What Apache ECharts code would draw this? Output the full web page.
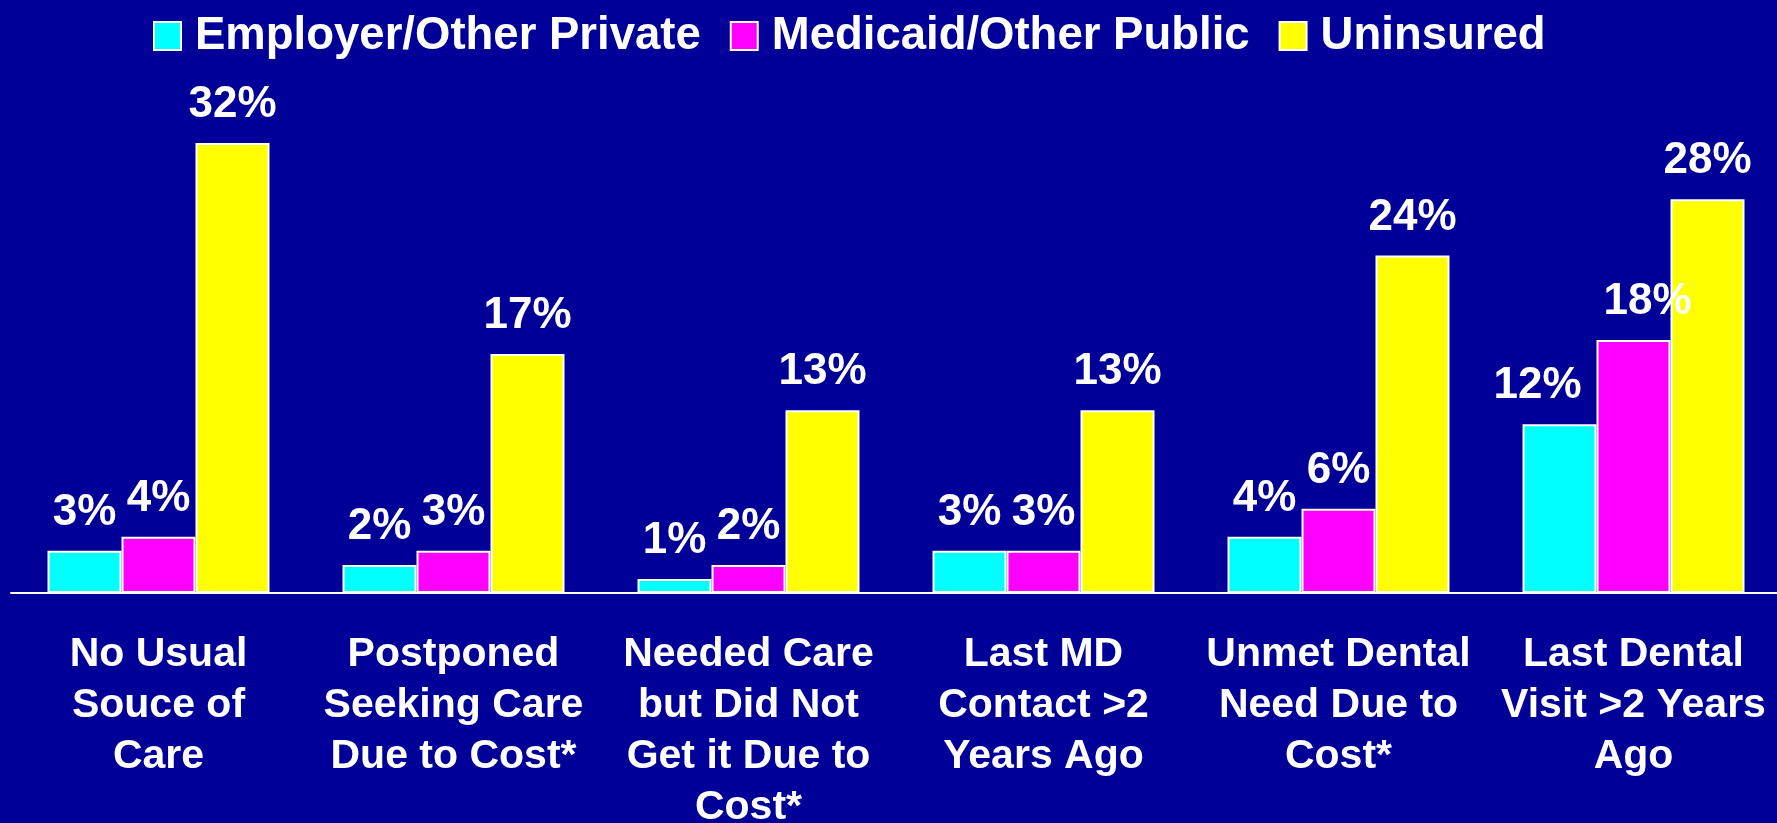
<!DOCTYPE html>
<html>
<head>
<meta charset="utf-8">
<script src="https://cdn.jsdelivr.net/npm/echarts@6/dist/echarts.min.js"></script>
<style>
html,body{margin:0;padding:0;background:#000099;}
#c{width:1777px;height:823px;}
</style>
</head>
<body>
<div id="c"></div>
<script>
var categories = [
  "No Usual\nSouce of\nCare",
  "Postponed\nSeeking Care\nDue to Cost*",
  "Needed Care\nbut Did Not\nGet it Due to\nCost*",
  "Last MD\nContact >2\nYears Ago",
  "Unmet Dental\nNeed Due to\nCost*",
  "Last Dental\nVisit >2 Years\nAgo"
];
var seriesNames = ["Employer/Other Private", "Medicaid/Other Public", "Uninsured"];
var employer = [3, 2, 1, 3, 4, 12];
var medicaid = [4, 3, 2, 3, 6, 18];
var uninsured = [32, 17, 13, 13, 24, 28];
var colors = ["#00FFFF", "#FF00FF", "#FFFF00"];

var FONT = "'Liberation Sans', Arial, sans-serif";

function labelCfg() {
  return {
    show: true,
    position: 'top',
    distance: 16,
    formatter: '{c}%',
    color: '#ffffff',
    fontFamily: FONT,
    fontWeight: 'bold',
    fontSize: 44,
    lineHeight: 44
  };
}

function makeData(arr, offsets) {
  return arr.map(function (v, i) {
    var d = { value: v };
    if (offsets && offsets[i]) {
      d.label = { offset: offsets[i] };
    }
    return d;
  });
}

var chart = echarts.init(document.getElementById('c'));
var allSeries = [employer, medicaid, uninsured].map(function (arr, k) {
  var offsets = null;
  if (k === 0) offsets = [null, null, null, null, null, [-22, 0]];
  if (k === 1) offsets = [null, null, null, null, null, [14, 0]];
  return {
    name: seriesNames[k],
    type: 'bar',
    data: makeData(arr, offsets),
    barWidth: 74,
    barGap: '0%',
    itemStyle: { color: colors[k], borderColor: '#ffffff', borderWidth: 2 },
    label: labelCfg(),
    emphasis: { disabled: true },
    animation: false
  };
});

chart.setOption({
  backgroundColor: '#000099',
  animation: false,
  legend: {
    left: 153,
    top: 13,
    padding: 0,
    icon: 'rect',
    itemWidth: 27,
    itemHeight: 28,
    itemGap: 29,
    textStyle: {
      color: '#ffffff',
      fontFamily: FONT,
      fontWeight: 'bold',
      fontSize: 45.5,
      padding: [0, 0, 0, 9]
    },
    data: seriesNames
  },
  grid: { left: 11, top: 143, width: 1770, height: 450, containLabel: false, outerBoundsMode: 'none' },
  xAxis: {
    type: 'category',
    data: categories,
    axisLine: { show: true, lineStyle: { color: '#ffffff', width: 2 } },
    axisTick: { show: false },
    axisLabel: {
      interval: 0,
      margin: 36,
      color: '#ffffff',
      fontFamily: FONT,
      fontWeight: 'bold',
      fontSize: 41,
      lineHeight: 51,
      verticalAlign: 'top'
    }
  },
  yAxis: {
    type: 'value',
    min: 0,
    max: 32,
    show: false,
    splitLine: { show: false }
  },
  series: allSeries
});
</script>
</body>
</html>
